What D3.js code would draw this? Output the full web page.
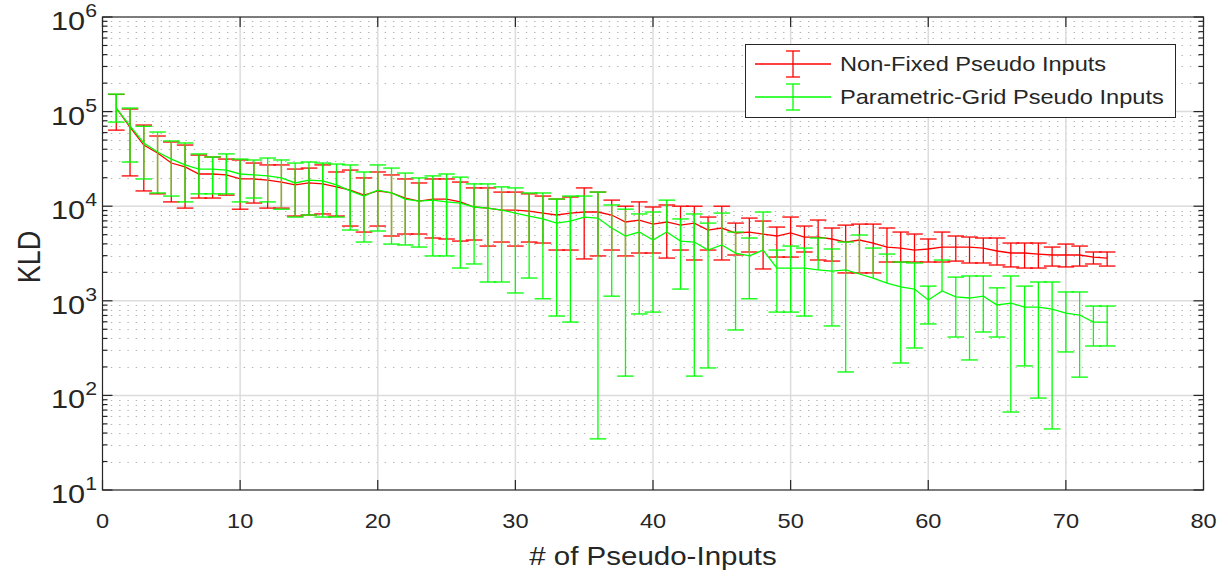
<!DOCTYPE html>
<html>
<head>
<meta charset="utf-8">
<script src="https://cdn.jsdelivr.net/npm/d3@7"></script>
<style>
  body { margin: 0; background: #fff; }
  svg { display: block; }
  text { font-family: "Liberation Sans", Arial, Helvetica, sans-serif; fill: #262626; }
</style>
</head>
<body>
<svg id="chart" width="1228" height="579"></svg>
<script>
// Number of pseudo-inputs used for each run
const pseudoInputs = d3.range(1, 74);

// Non-fixed pseudo inputs: mean KLD and error-bar ends
const nonFixedMean = [
  109000, 68700, 44300, 36500, 28600, 26000, 21900, 21900, 21400, 19400,
  19400, 18900, 18000, 16800, 17600, 17200, 16000, 14800, 13100, 14500,
  13800, 12200, 11300, 11900, 11900, 11100, 9810, 9550, 9110, 9110,
  8890, 8460, 8070, 8460, 8680, 8680, 8070, 6810, 7140, 6470,
  6810, 6310, 6630, 5600, 5880, 5210, 5330, 5080, 4840, 5210,
  4720, 4720, 4500, 4180, 4390, 4080, 3700, 3610, 3440, 3530,
  3700, 3700, 3700, 3610, 3360, 3200, 3200, 3120, 3050, 3050,
  3050, 2900, 2830
];
const nonFixedUpper = [
  152000, 106500, 72100, 55200, 47700, 44300, 34700, 33100, 31500, 30800,
  28600, 27300, 27300, 24700, 25300, 27300, 23000, 24100, 19900, 23000,
  21400, 19400, 17600, 19400, 19400, 18000, 15600, 15600, 14100, 14100,
  13500, 12800, 11900, 12500, 15600, 14100, 11600, 10000, 11100, 9810,
  10300, 10000, 10000, 7680, 10000, 6630, 7490, 6970, 6020, 7680,
  6170, 7140, 5880, 6310, 6470, 6470, 5880, 5330, 5080, 4500,
  5330, 4840, 4720, 4610, 4610, 4080, 4080, 4080, 3700, 3980,
  3790, 3280, 3280
];
const nonFixedLower = [
  63700, 20900, 14500, 13500, 11100, 9550, 12200, 12200, 13100, 9300,
  10800, 9550, 9550, 7870, 8070, 8280, 7870, 6170, 5330, 6170,
  4840, 5080, 5080, 4610, 4500, 4280, 4390, 3790, 4180, 3790,
  4180, 4080, 3440, 3440, 2770, 2980, 3440, 2980, 3200, 3200,
  2830, 3440, 2700, 3440, 2700, 3050, 3280, 2170, 2900, 2900,
  3280, 2700, 2630, 1970, 1970, 1970, 2570, 2570, 2570, 2570,
  2570, 2630, 2510, 2510, 2390, 2280, 2220, 2220, 2330, 2280,
  2330, 2450, 2330
];

// Parametric-grid pseudo inputs: mean KLD and error-bar ends
// (null lower end: the bar reaches zero or below and has no lower half on a log axis)
const gridMean = [
  109000, 70500, 46600, 37400, 31500, 27300, 24700, 24700, 24100, 21900,
  21400, 20900, 19900, 17600, 18900, 18500, 16800, 14500, 12800, 14800,
  13800, 11900, 11300, 11600, 11100, 10800, 9810, 9550, 9110, 8460,
  7870, 7330, 6630, 6970, 7680, 7490, 5880, 4840, 5330, 4390,
  5330, 4280, 4180, 3440, 3890, 3200, 2980, 3440, 2220, 2220,
  2220, 2120, 2060, 2120, 1920, 1740, 1540, 1400, 1330, 1020,
  1270, 1100, 1070, 1120, 903, 946, 858, 858, 818, 742,
  707, 596, 596
];
const gridUpper = [
  153000, 109000, 70000, 60800, 48900, 46600, 35700, 33100, 35700, 31500,
  30800, 32300, 30800, 28600, 29300, 28600, 27900, 27300, 23000, 27300,
  25300, 22400, 19900, 20900, 21900, 20300, 17200, 17200, 16000, 15600,
  13800, 13800, 11900, 12800, 12800, 14100, 10300, 9300, 8280, 8680,
  11600, 7330, 8280, 6630, 8460, 5330, 4610, 8680, 3440, 3790,
  3610, 4610, 3530, 4180, 4960, 3610, 3120, 2570, 2510, 1430,
  2700, 1780, 1830, 1830, 1370, 1830, 1430, 1580, 1580, 1240,
  1240, 880, 880
];
const gridLower = [
  77500, 29300, 19400, 13800, 12800, 11100, 13500, 13500, 13500, 11100,
  12200, 11100, 9300, 7680, 8070, 7680, 7680, 5600, 4180, 5470,
  3980, 3890, 3700, 2980, 2980, 2220, 2450, 1580, 1580, 1210,
  1740, 1050, 690, 596, null, 34.7, 1120, 160, 726, 760,
  null, 1330, 160, 195, null, 492, 1050, null, 760, 760,
  690, null, 542, 177, null, null, null, 220, 317, 569,
  null, 414, 237, 468, 414, 66.7, 205, 93.7, 44.2, 288,
  156, 333, 333
];

const seriesNames = ["Non-Fixed Pseudo Inputs", "Parametric-Grid Pseudo Inputs"];
const seriesColors = ["#ff0000", "#00ff00"];
const xTicks = [0, 10, 20, 30, 40, 50, 60, 70, 80];
const yTickExponents = [1, 2, 3, 4, 5, 6];
const xLabel = "# of Pseudo-Inputs";
const yLabel = "KLD";

const series = [
  { name: seriesNames[0], color: seriesColors[0], mean: nonFixedMean, lower: nonFixedLower, upper: nonFixedUpper },
  { name: seriesNames[1], color: seriesColors[1], mean: gridMean, lower: gridLower, upper: gridUpper }
];

const svg = d3.select("#chart");
const plot = { left: 102.5, right: 1203.5, top: 17, bottom: 490 };
const textStretch = 1.18;   // the figure's lettering is set wide

const x = d3.scaleLinear().domain([0, 80]).range([plot.left, plot.right]);
const y = d3.scaleLog().domain([10, 1e6]).range([plot.bottom, plot.top]);

// Text helper: horizontally widened label anchored at (px, py)
function wideText(parent, px, py, size, anchor, rotate) {
  const g = parent.append("g")
    .attr("transform", `translate(${px},${py})` + (rotate ? ` rotate(${rotate})` : "") +
      (rotate ? ` scale(1,${textStretch})` : ` scale(${textStretch},1)`));
  return g.append("text").attr("font-size", size).attr("text-anchor", anchor);
}

// Minor (dotted) horizontal grid lines at 2..9 x 10^n
const minorVals = [];
for (let e = 1; e < 6; e++) for (let k = 2; k <= 9; k++) minorVals.push(k * Math.pow(10, e));
svg.append("g").selectAll("line").data(minorVals).join("line")
  .attr("x1", plot.left).attr("x2", plot.right)
  .attr("y1", d => Math.round(y(d)) + 0.5).attr("y2", d => Math.round(y(d)) + 0.5)
  .attr("stroke", "#b3b3b3").attr("stroke-width", 1.2)
  .attr("stroke-dasharray", "1.4,6.9");

// Major grid lines
svg.append("g").selectAll("line").data(yTickExponents.slice(1, -1)).join("line")
  .attr("x1", plot.left).attr("x2", plot.right)
  .attr("y1", d => y(Math.pow(10, d))).attr("y2", d => y(Math.pow(10, d)))
  .attr("stroke", "#dcdcdc").attr("stroke-width", 1.5);
svg.append("g").selectAll("line").data(xTicks.slice(1, -1)).join("line")
  .attr("x1", d => x(d)).attr("x2", d => x(d))
  .attr("y1", plot.top).attr("y2", plot.bottom)
  .attr("stroke", "#dcdcdc").attr("stroke-width", 1.5);

// Series: mean line plus vertical error bars with caps
const capHalf = 8.3;
const line = d3.line().x((d, i) => x(pseudoInputs[i])).y(d => y(d));
series.forEach(s => {
  const g = svg.append("g").attr("stroke", s.color).attr("fill", "none").attr("stroke-width", 1.3);
  g.append("path").attr("d", line(s.mean));
  pseudoInputs.forEach((n, i) => {
    const cx = x(n);
    const top = y(s.upper[i]);
    const bottom = s.lower[i] == null ? y(s.mean[i]) : y(s.lower[i]);
    g.append("line").attr("x1", cx).attr("x2", cx).attr("y1", top).attr("y2", bottom);
    g.append("line").attr("x1", cx - capHalf).attr("x2", cx + capHalf).attr("y1", top).attr("y2", top);
    if (s.lower[i] != null) {
      g.append("line").attr("x1", cx - capHalf).attr("x2", cx + capHalf).attr("y1", bottom).attr("y2", bottom);
    }
  });
});

// Axes box
const axisColor = "#262626";
svg.append("rect")
  .attr("x", plot.left).attr("y", plot.top)
  .attr("width", plot.right - plot.left).attr("height", plot.bottom - plot.top)
  .attr("fill", "none").attr("stroke", axisColor).attr("stroke-width", 1.2);

// Ticks (inward, on both sides)
const majorLen = 10, minorLen = 5;
const tg = svg.append("g").attr("stroke", axisColor).attr("stroke-width", 1.2);
xTicks.forEach(t => {
  tg.append("line").attr("x1", x(t)).attr("x2", x(t)).attr("y1", plot.bottom).attr("y2", plot.bottom - majorLen);
  tg.append("line").attr("x1", x(t)).attr("x2", x(t)).attr("y1", plot.top).attr("y2", plot.top + majorLen);
});
yTickExponents.forEach(e => {
  const yy = y(Math.pow(10, e));
  tg.append("line").attr("x1", plot.left).attr("x2", plot.left + majorLen).attr("y1", yy).attr("y2", yy);
  tg.append("line").attr("x1", plot.right).attr("x2", plot.right - majorLen).attr("y1", yy).attr("y2", yy);
});
minorVals.forEach(v => {
  const yy = y(v);
  tg.append("line").attr("x1", plot.left).attr("x2", plot.left + minorLen).attr("y1", yy).attr("y2", yy);
  tg.append("line").attr("x1", plot.right).attr("x2", plot.right - minorLen).attr("y1", yy).attr("y2", yy);
});

// Tick labels
const labels = svg.append("g");
xTicks.forEach(t => wideText(labels, x(t), 528, 20, "middle").text(t));
yTickExponents.forEach(e => {
  const t = wideText(labels, 97, y(Math.pow(10, e)) + 13, 26, "end");
  t.append("tspan").text("10");
  t.append("tspan").attr("font-size", 18).attr("dy", -13).text(e);
});

// Axis titles
wideText(labels, (plot.left + plot.right) / 2, 565, 25, "middle").text(xLabel);
wideText(labels, 40, 257, 27, "middle", -90).text(yLabel);

// Legend
const legend = svg.append("g");
legend.append("rect").attr("x", 745.5).attr("y", 44.5).attr("width", 430).attr("height", 73)
  .attr("fill", "#fff").attr("stroke", axisColor).attr("stroke-width", 1);
series.forEach((s, i) => {
  const ly = 64 + i * 33;
  const lg = legend.append("g").attr("stroke", s.color).attr("stroke-width", 1.3);
  lg.append("line").attr("x1", 755).attr("x2", 831).attr("y1", ly).attr("y2", ly);
  lg.append("line").attr("x1", 793).attr("x2", 793).attr("y1", ly - 13).attr("y2", ly + 13);
  lg.append("line").attr("x1", 786).attr("x2", 800).attr("y1", ly - 13).attr("y2", ly - 13);
  lg.append("line").attr("x1", 786).attr("x2", 800).attr("y1", ly + 13).attr("y2", ly + 13);
  wideText(legend, 840, ly + 7, 20, "start").text(s.name);
});
</script>
</body>
</html>
